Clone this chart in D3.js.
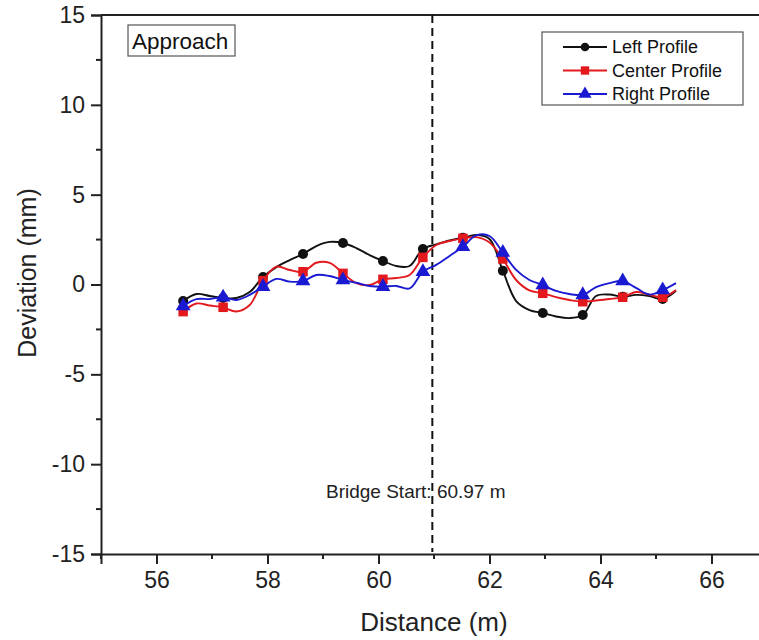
<!DOCTYPE html>
<html>
<head>
<meta charset="utf-8">
<script src="https://cdn.jsdelivr.net/npm/d3@7"></script>
<style>
  body { margin: 0; background: #fff; }
  svg { display: block; font-family: "Liberation Sans", Arial, sans-serif; }
</style>
</head>
<body>
<svg id="chart" width="759" height="640"></svg>
<script>
// distance along the approach (m)
const distance = [56.48, 56.72, 56.96, 57.20, 57.44, 57.68, 57.92, 58.16, 58.40, 58.64,
  58.88, 59.12, 59.36, 59.60, 59.84, 60.08, 60.32, 60.56, 60.80, 61.04,
  61.28, 61.52, 61.76, 62.00, 62.24, 62.48, 62.72, 62.96, 63.20, 63.44,
  63.68, 63.92, 64.16, 64.40, 64.64, 64.88, 65.12, 65.36];

// deviation (mm)
const leftProfile = [-0.92, -0.53, -0.64, -0.75, -0.75, -0.42, 0.42, 0.97, 1.36, 1.70,
  2.14, 2.37, 2.31, 2.03, 1.64, 1.31, 1.03, 1.03, 1.98, 2.23,
  2.45, 2.60, 2.76, 2.53, 0.77, -0.92, -1.42, -1.59, -1.78, -1.87,
  -1.70, -0.64, -0.56, -0.68, -0.58, -0.64, -0.81, -0.35];

const centerProfile = [-1.51, -1.06, -1.17, -1.27, -1.50, -1.14, 0.21, 0.99, 0.81, 0.71,
  1.21, 1.20, 0.62, 0.08, -0.03, 0.29, 0.36, 0.53, 1.51, 2.20,
  2.42, 2.57, 2.64, 2.34, 1.42, 0.25, -0.33, -0.49, -0.70, -0.86,
  -0.96, -0.89, -0.81, -0.71, -0.42, -0.56, -0.71, -0.31];

const rightProfile = [-1.20, -0.81, -0.81, -0.71, -0.86, -0.58, -0.12, 0.31, 0.16, 0.19,
  0.53, 0.47, 0.25, 0.10, -0.08, -0.12, -0.08, -0.22, 0.71, 1.09,
  1.59, 2.10, 2.73, 2.70, 1.78, 0.81, 0.25, -0.03, -0.36, -0.53,
  -0.58, -0.14, 0.08, 0.19, -0.19, -0.56, -0.31, 0.08];

const seriesNames = ["Left Profile", "Center Profile", "Right Profile"];
const seriesColors = ["#111111", "#e3191e", "#1a1ad2"];
const seriesSymbols = [d3.symbolCircle, d3.symbolSquare, d3.symbolTriangle];

const xMajorTicks = [56, 58, 60, 62, 64, 66];
const xMinorTicks = [55, 57, 59, 61, 63, 65, 67];
const yMajorTicks = [-15, -10, -5, 0, 5, 10, 15];
const yMinorTicks = [-12.5, -7.5, -2.5, 2.5, 7.5, 12.5];

const bridgeStart = 60.97;
const markerEvery = 3;

const svg = d3.select("#chart");

const x = d3.scaleLinear().domain([55, 67]).range([101, 767]);
const y = d3.scaleLinear().domain([-15, 15]).range([554, 15]);

// frame (right side falls outside the picture)
svg.append("line")
  .attr("x1", x(55)).attr("x2", x(67))
  .attr("y1", y(15)).attr("y2", y(15))
  .attr("stroke", "#222").attr("stroke-width", 2);

// x axis
const xAxis = svg.append("g")
  .attr("transform", "translate(0," + y(-15) + ")")
  .call(d3.axisBottom(x).tickValues(xMajorTicks).tickSize(10).tickPadding(8).tickFormat(d3.format("d")));
xAxis.append("g")
  .selectAll("line")
  .data(xMinorTicks)
  .enter().append("line")
  .attr("x1", d => x(d)).attr("x2", d => x(d))
  .attr("y1", 0).attr("y2", 5)
  .attr("stroke", "#222").attr("stroke-width", 2);

// y axis
const yAxis = svg.append("g")
  .attr("transform", "translate(" + x(55) + ",0)")
  .call(d3.axisLeft(y).tickValues(yMajorTicks).tickSize(10).tickPadding(6).tickFormat(d3.format("d")));
yAxis.append("g")
  .selectAll("line")
  .data(yMinorTicks)
  .enter().append("line")
  .attr("x1", 0).attr("x2", -5)
  .attr("y1", d => y(d)).attr("y2", d => y(d))
  .attr("stroke", "#222").attr("stroke-width", 2);

[xAxis, yAxis].forEach(a => {
  a.select(".domain").attr("stroke", "#222").attr("stroke-width", 2);
  a.selectAll(".tick line").attr("stroke", "#222").attr("stroke-width", 2);
  a.selectAll(".tick text")
    .attr("fill", "#222")
    .style("font-size", "23px")
    .style("font-family", "'Liberation Sans', Arial, sans-serif");
});
// plain hyphen for negative labels, as in the original
yAxis.selectAll(".tick text").text(d => String(d));

// axis titles
svg.append("text")
  .attr("x", (x(55) + x(67)) / 2)
  .attr("y", 631)
  .attr("text-anchor", "middle")
  .attr("fill", "#222")
  .style("font-size", "26px")
  .text("Distance (m)");

svg.append("text")
  .attr("transform", "translate(36," + 273 + ") rotate(-90)")
  .attr("text-anchor", "middle")
  .attr("fill", "#222")
  .style("font-size", "25px")
  .text("Deviation (mm)");

// bridge start marker
svg.append("line")
  .attr("x1", x(bridgeStart)).attr("x2", x(bridgeStart))
  .attr("y1", y(15)).attr("y2", y(-15) - 2)
  .attr("stroke", "#111")
  .attr("stroke-width", 2)
  .attr("stroke-dasharray", "8,5");

svg.append("text")
  .attr("x", 326)
  .attr("y", 498)
  .attr("fill", "#222")
  .style("font-size", "19px")
  .text("Bridge Start: " + bridgeStart + " m");

// profiles
const profiles = [leftProfile, centerProfile, rightProfile];

const line = d3.line()
  .x(d => x(d[0]))
  .y(d => y(d[1]))
  .curve(d3.curveCatmullRom.alpha(0.5));

profiles.forEach((values, s) => {
  const pts = distance.map((d, i) => [d, values[i]]);
  const g = svg.append("g").attr("class", "series");

  g.append("path")
    .datum(pts)
    .attr("d", line)
    .attr("fill", "none")
    .attr("stroke", seriesColors[s])
    .attr("stroke-width", 1.9);

  const sym = d3.symbol().type(seriesSymbols[s]).size([78, 90, 95][s]);
  g.selectAll("path.marker")
    .data(pts.filter((d, i) => i % markerEvery === 0))
    .enter().append("path")
    .attr("class", "marker")
    .attr("d", sym)
    .attr("transform", d => "translate(" + x(d[0]) + "," + y(d[1]) + ")")
    .attr("fill", seriesColors[s]);
});

// "Approach" label box
svg.append("rect")
  .attr("x", 128).attr("y", 25)
  .attr("width", 107).attr("height", 31)
  .attr("fill", "#fff")
  .attr("stroke", "#555").attr("stroke-width", 1.2);
svg.append("text")
  .attr("x", 132).attr("y", 49)
  .attr("fill", "#111")
  .style("font-size", "22.5px")
  .text("Approach");

// legend
const legend = svg.append("g").attr("transform", "translate(542,32)");
legend.append("rect")
  .attr("width", 201).attr("height", 73)
  .attr("fill", "#fff")
  .attr("stroke", "#555").attr("stroke-width", 1.2);

seriesNames.forEach((name, s) => {
  const row = legend.append("g").attr("transform", "translate(0," + (15 + s * 23.5) + ")");
  row.append("line")
    .attr("x1", 21).attr("x2", 65)
    .attr("stroke", seriesColors[s]).attr("stroke-width", 1.8);
  row.append("path")
    .attr("d", d3.symbol().type(seriesSymbols[s]).size([60, 70, 75][s]))
    .attr("transform", "translate(43,0)")
    .attr("fill", seriesColors[s]);
  row.append("text")
    .attr("x", 70).attr("y", 6)
    .attr("fill", "#111")
    .style("font-size", "18px")
    .text(name);
});
</script>
</body>
</html>
